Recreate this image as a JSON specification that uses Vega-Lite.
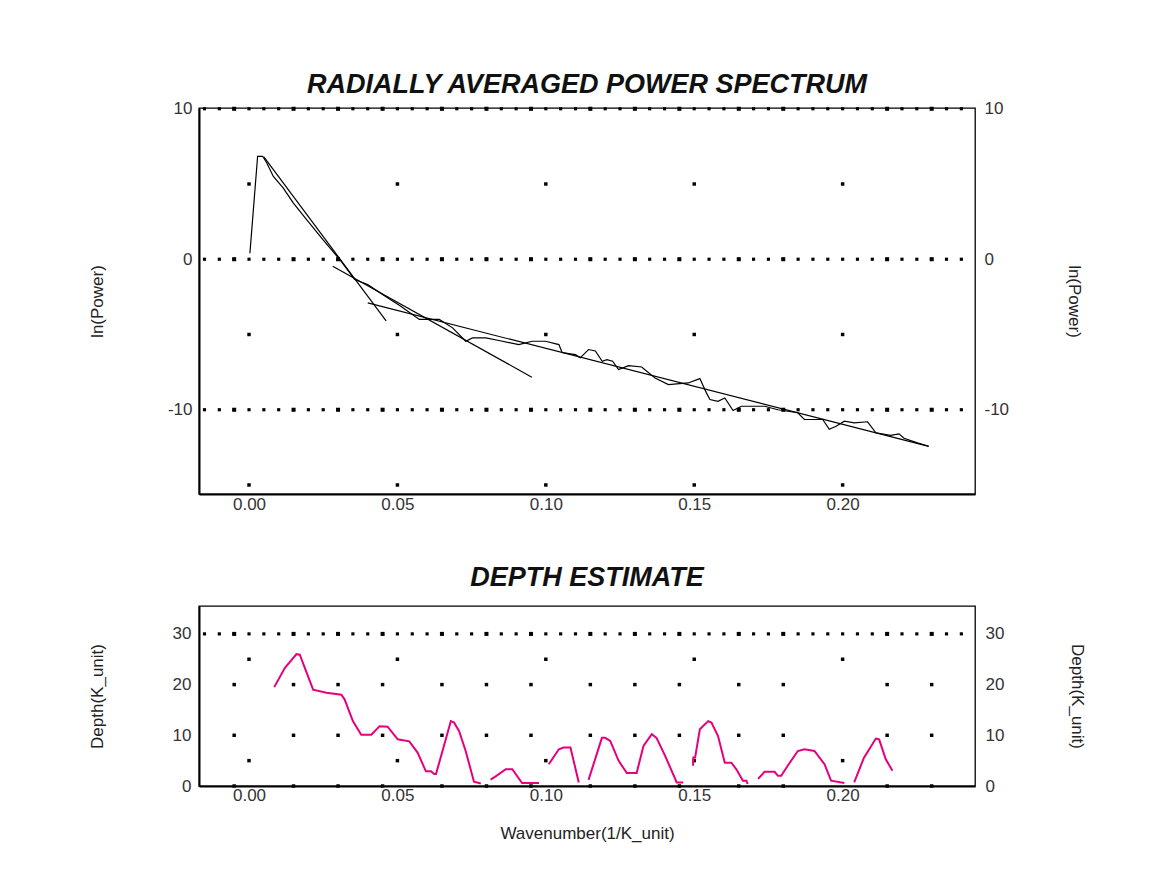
{
  "$schema": "https://vega.github.io/schema/vega-lite/v6.json",
  "background": "white",
  "padding": {"left": 87, "top": 70, "right": 5, "bottom": 5},
  "datasets": {
    "spectrum": [
      {"k": 0.0003, "lnp": 0.4}, {"k": 0.0029, "lnp": 6.84}, {"k": 0.0046, "lnp": 6.84}, {"k": 0.006, "lnp": 6.4},
      {"k": 0.0082, "lnp": 5.5}, {"k": 0.0115, "lnp": 4.74}, {"k": 0.0149, "lnp": 3.74}, {"k": 0.0194, "lnp": 2.64},
      {"k": 0.0249, "lnp": 1.3}, {"k": 0.0305, "lnp": 0.0}, {"k": 0.0356, "lnp": -1.35}, {"k": 0.04, "lnp": -1.68},
      {"k": 0.045, "lnp": -2.35}, {"k": 0.051, "lnp": -3.1}, {"k": 0.0574, "lnp": -4.0}, {"k": 0.0641, "lnp": -4.0},
      {"k": 0.0686, "lnp": -4.56}, {"k": 0.073, "lnp": -5.45}, {"k": 0.0753, "lnp": -5.23}, {"k": 0.0798, "lnp": -5.23},
      {"k": 0.0842, "lnp": -5.4}, {"k": 0.0909, "lnp": -5.67}, {"k": 0.0954, "lnp": -5.45}, {"k": 0.0999, "lnp": -5.45},
      {"k": 0.1044, "lnp": -5.67}, {"k": 0.1055, "lnp": -6.2}, {"k": 0.11, "lnp": -6.34}, {"k": 0.1116, "lnp": -6.55},
      {"k": 0.1144, "lnp": -6.0}, {"k": 0.1167, "lnp": -6.1}, {"k": 0.119, "lnp": -6.78}, {"k": 0.1206, "lnp": -6.67},
      {"k": 0.1225, "lnp": -6.78}, {"k": 0.1245, "lnp": -7.33}, {"k": 0.1279, "lnp": -7.07}, {"k": 0.1323, "lnp": -7.16},
      {"k": 0.1368, "lnp": -7.89}, {"k": 0.1413, "lnp": -8.33}, {"k": 0.148, "lnp": -8.22}, {"k": 0.1519, "lnp": -7.93},
      {"k": 0.1541, "lnp": -8.88}, {"k": 0.1553, "lnp": -9.32}, {"k": 0.158, "lnp": -9.44}, {"k": 0.1603, "lnp": -9.22},
      {"k": 0.1631, "lnp": -10.05}, {"k": 0.1659, "lnp": -9.77}, {"k": 0.1737, "lnp": -9.77}, {"k": 0.1782, "lnp": -10.0},
      {"k": 0.1849, "lnp": -10.2}, {"k": 0.1871, "lnp": -10.65}, {"k": 0.1933, "lnp": -10.65}, {"k": 0.1955, "lnp": -11.3},
      {"k": 0.1978, "lnp": -11.1}, {"k": 0.2006, "lnp": -10.76}, {"k": 0.2039, "lnp": -10.87}, {"k": 0.2084, "lnp": -10.8},
      {"k": 0.2112, "lnp": -11.53}, {"k": 0.2162, "lnp": -11.7}, {"k": 0.219, "lnp": -11.6}, {"k": 0.2207, "lnp": -11.9},
      {"k": 0.2252, "lnp": -12.2}, {"k": 0.229, "lnp": -12.43}
    ],
    "fits": [
      {"line": "A", "k": 0.005, "lnp": 6.8}, {"line": "A", "k": 0.0462, "lnp": -4.1},
      {"line": "B", "k": 0.0282, "lnp": -0.47}, {"line": "B", "k": 0.0953, "lnp": -7.84},
      {"line": "C", "k": 0.04, "lnp": -2.9}, {"line": "C", "k": 0.229, "lnp": -12.43}
    ],
    "depth": [
      {"seg": 1, "k": 0.0085, "d": 19.5}, {"seg": 1, "k": 0.0121, "d": 23.3}, {"seg": 1, "k": 0.016, "d": 26.0}, {"seg": 1, "k": 0.0171, "d": 25.9},
      {"seg": 1, "k": 0.0216, "d": 19.0}, {"seg": 1, "k": 0.0261, "d": 18.4}, {"seg": 1, "k": 0.0311, "d": 18.0}, {"seg": 1, "k": 0.0322, "d": 17.1},
      {"seg": 1, "k": 0.035, "d": 12.8}, {"seg": 1, "k": 0.0378, "d": 10.1}, {"seg": 1, "k": 0.0412, "d": 10.1}, {"seg": 1, "k": 0.044, "d": 11.8},
      {"seg": 1, "k": 0.0467, "d": 11.7}, {"seg": 1, "k": 0.0501, "d": 9.2}, {"seg": 1, "k": 0.054, "d": 8.8}, {"seg": 1, "k": 0.0568, "d": 6.6},
      {"seg": 1, "k": 0.0596, "d": 2.9}, {"seg": 1, "k": 0.0613, "d": 2.9}, {"seg": 1, "k": 0.0624, "d": 2.35}, {"seg": 1, "k": 0.063, "d": 2.35},
      {"seg": 1, "k": 0.0663, "d": 9.2}, {"seg": 1, "k": 0.068, "d": 12.8}, {"seg": 1, "k": 0.0691, "d": 12.5}, {"seg": 1, "k": 0.0708, "d": 10.8},
      {"seg": 1, "k": 0.073, "d": 6.9}, {"seg": 1, "k": 0.0758, "d": 0.85}, {"seg": 1, "k": 0.0781, "d": 0.5},
      {"seg": 2, "k": 0.0814, "d": 1.25}, {"seg": 2, "k": 0.0831, "d": 1.9}, {"seg": 2, "k": 0.0865, "d": 3.3}, {"seg": 2, "k": 0.0887, "d": 3.3},
      {"seg": 2, "k": 0.092, "d": 0.6}, {"seg": 2, "k": 0.0977, "d": 0.6},
      {"seg": 3, "k": 0.101, "d": 4.3}, {"seg": 3, "k": 0.1044, "d": 7.25}, {"seg": 3, "k": 0.106, "d": 7.6}, {"seg": 3, "k": 0.1083, "d": 7.6},
      {"seg": 3, "k": 0.1111, "d": 0.7},
      {"seg": 4, "k": 0.1144, "d": 1.2}, {"seg": 4, "k": 0.1189, "d": 9.5}, {"seg": 4, "k": 0.12, "d": 9.5}, {"seg": 4, "k": 0.1217, "d": 8.9},
      {"seg": 4, "k": 0.1245, "d": 5.0}, {"seg": 4, "k": 0.1273, "d": 2.55}, {"seg": 4, "k": 0.1306, "d": 2.55}, {"seg": 4, "k": 0.1329, "d": 7.9},
      {"seg": 4, "k": 0.1357, "d": 10.2}, {"seg": 4, "k": 0.1373, "d": 9.5}, {"seg": 4, "k": 0.1402, "d": 5.95}, {"seg": 4, "k": 0.1441, "d": 0.7},
      {"seg": 4, "k": 0.1463, "d": 0.7},
      {"seg": 5, "k": 0.1496, "d": 4.0}, {"seg": 5, "k": 0.1497, "d": 5.6}, {"seg": 5, "k": 0.1503, "d": 5.6}, {"seg": 5, "k": 0.1519, "d": 11.2},
      {"seg": 5, "k": 0.1547, "d": 12.8}, {"seg": 5, "k": 0.1558, "d": 12.5}, {"seg": 5, "k": 0.158, "d": 9.9}, {"seg": 5, "k": 0.1603, "d": 4.6},
      {"seg": 5, "k": 0.1625, "d": 4.6}, {"seg": 5, "k": 0.1642, "d": 3.3}, {"seg": 5, "k": 0.1664, "d": 1.05}, {"seg": 5, "k": 0.1676, "d": 1.05},
      {"seg": 5, "k": 0.168, "d": 0.4},
      {"seg": 6, "k": 0.1715, "d": 1.4}, {"seg": 6, "k": 0.1737, "d": 2.8}, {"seg": 6, "k": 0.1771, "d": 2.8}, {"seg": 6, "k": 0.1782, "d": 2.0},
      {"seg": 6, "k": 0.1793, "d": 2.0}, {"seg": 6, "k": 0.1815, "d": 4.0}, {"seg": 6, "k": 0.1849, "d": 6.9}, {"seg": 6, "k": 0.1871, "d": 7.25},
      {"seg": 6, "k": 0.1905, "d": 6.9}, {"seg": 6, "k": 0.1939, "d": 4.3}, {"seg": 6, "k": 0.1961, "d": 1.05}, {"seg": 6, "k": 0.2006, "d": 0.6},
      {"seg": 7, "k": 0.2039, "d": 0.7}, {"seg": 7, "k": 0.2072, "d": 5.6}, {"seg": 7, "k": 0.2112, "d": 9.35}, {"seg": 7, "k": 0.2123, "d": 9.2},
      {"seg": 7, "k": 0.2145, "d": 5.3}, {"seg": 7, "k": 0.2168, "d": 3.0}
    ],
    "dense": [
      {"k": -0.015}, {"k": -0.01}, {"k": -0.005}, {"k": 0.0}, {"k": 0.005}, {"k": 0.01}, {"k": 0.015}, {"k": 0.02}, {"k": 0.025}, {"k": 0.03},
      {"k": 0.035}, {"k": 0.04}, {"k": 0.045}, {"k": 0.05}, {"k": 0.055}, {"k": 0.06}, {"k": 0.065}, {"k": 0.07}, {"k": 0.075}, {"k": 0.08},
      {"k": 0.085}, {"k": 0.09}, {"k": 0.095}, {"k": 0.1}, {"k": 0.105}, {"k": 0.11}, {"k": 0.115}, {"k": 0.12}, {"k": 0.125}, {"k": 0.13},
      {"k": 0.135}, {"k": 0.14}, {"k": 0.145}, {"k": 0.15}, {"k": 0.155}, {"k": 0.16}, {"k": 0.165}, {"k": 0.17}, {"k": 0.175}, {"k": 0.18},
      {"k": 0.185}, {"k": 0.19}, {"k": 0.195}, {"k": 0.2}, {"k": 0.205}, {"k": 0.21}, {"k": 0.215}, {"k": 0.22}, {"k": 0.225}, {"k": 0.23},
      {"k": 0.235}, {"k": 0.24}
    ],
    "sparse": [{"k": 0.0}, {"k": 0.05}, {"k": 0.1}, {"k": 0.15}, {"k": 0.2}],
    "irregular": [
      {"k": -0.005}, {"k": 0.015}, {"k": 0.03}, {"k": 0.045}, {"k": 0.065}, {"k": 0.08}, {"k": 0.095},
      {"k": 0.115}, {"k": 0.13}, {"k": 0.145}, {"k": 0.165}, {"k": 0.18}, {"k": 0.215}, {"k": 0.23}
    ]
  },
  "vconcat": [
    {
      "title": {"text": "RADIALLY AVERAGED POWER SPECTRUM", "fontSize": 27, "offset": -20, "baseline": "alphabetic"},
      "width": 776,
      "height": 386,
      "encoding": {
        "x": {
          "field": "k", "type": "quantitative",
          "scale": {"domain": [-0.01685, 0.2446], "nice": false, "zero": false},
          "axis": {"values": [0, 0.05, 0.1, 0.15, 0.2], "format": ".2f", "title": null, "labelPadding": 2, "domain": true, "domainWidth": 2, "domainColor": "#000", "labelFlush": false, "labelOverlap": false}
        }
      },
      "layer": [
        {"data": {"name": "dense"}, "mark": {"type": "point", "shape": "square", "filled": true, "size": 10, "color": "#000", "opacity": 1, "strokeWidth": 0},
         "encoding": {"y": {"datum": 10, "type": "quantitative", "scale": {"domain": [-15.6, 10.05], "nice": false, "zero": false}, "axis": null}}},
        {"data": {"name": "dense"}, "mark": {"type": "point", "shape": "square", "filled": true, "size": 10, "color": "#000", "opacity": 1, "strokeWidth": 0},
         "encoding": {"y": {"datum": 0, "type": "quantitative", "axis": null}}},
        {"data": {"name": "dense"}, "mark": {"type": "point", "shape": "square", "filled": true, "size": 10, "color": "#000", "opacity": 1, "strokeWidth": 0},
         "encoding": {"y": {"datum": -10, "type": "quantitative", "axis": null}}},
        {"data": {"name": "irregular"}, "mark": {"type": "point", "shape": "square", "filled": true, "size": 16, "color": "#000", "opacity": 1, "strokeWidth": 0},
         "encoding": {"y": {"datum": 10, "type": "quantitative", "axis": null}}},
        {"data": {"name": "irregular"}, "mark": {"type": "point", "shape": "square", "filled": true, "size": 16, "color": "#000", "opacity": 1, "strokeWidth": 0},
         "encoding": {"y": {"datum": 0, "type": "quantitative", "axis": null}}},
        {"data": {"name": "irregular"}, "mark": {"type": "point", "shape": "square", "filled": true, "size": 16, "color": "#000", "opacity": 1, "strokeWidth": 0},
         "encoding": {"y": {"datum": -10, "type": "quantitative", "axis": null}}},
        {"data": {"name": "sparse"}, "mark": {"type": "point", "shape": "square", "filled": true, "size": 12, "color": "#000", "opacity": 1, "strokeWidth": 0},
         "encoding": {"y": {"datum": 5, "type": "quantitative", "axis": null}}},
        {"data": {"name": "sparse"}, "mark": {"type": "point", "shape": "square", "filled": true, "size": 12, "color": "#000", "opacity": 1, "strokeWidth": 0},
         "encoding": {"y": {"datum": -5, "type": "quantitative", "axis": null}}},
        {"data": {"name": "sparse"}, "mark": {"type": "point", "shape": "square", "filled": true, "size": 12, "color": "#000", "opacity": 1, "strokeWidth": 0},
         "encoding": {"y": {"datum": -15, "type": "quantitative", "axis": null}}},
        {"data": {"name": "spectrum"}, "mark": {"type": "line", "color": "#000", "strokeWidth": 1.2},
         "encoding": {"y": {"field": "lnp", "type": "quantitative",
           "axis": {"orient": "left", "values": [10, 0, -10], "labelExpr": "'' + datum.value", "title": "ln(Power)", "labelPadding": 7, "titlePadding": 61, "domain": true, "domainWidth": 2, "domainColor": "#000"}}}},
        {"data": {"name": "fits"}, "mark": {"type": "line", "color": "#000", "strokeWidth": 1.2},
         "encoding": {"detail": {"field": "line"}, "y": {"field": "lnp", "type": "quantitative",
           "axis": {"orient": "right", "values": [10, 0, -10], "labelExpr": "'' + datum.value", "title": "ln(Power)", "labelPadding": 9, "titlePadding": 56, "domain": false}}}}
      ],
      "resolve": {"axis": {"y": "independent"}}
    },
    {
      "title": {"text": "DEPTH ESTIMATE", "fontSize": 27, "offset": -7, "baseline": "alphabetic"},
      "width": 776,
      "height": 180,
      "encoding": {
        "x": {
          "field": "k", "type": "quantitative",
          "scale": {"domain": [-0.01685, 0.2446], "nice": false, "zero": false},
          "axis": {"values": [0, 0.05, 0.1, 0.15, 0.2], "format": ".2f", "title": "Wavenumber(1/K_unit)", "labelPadding": 1, "titlePadding": 22, "domain": true, "domainWidth": 2, "domainColor": "#000", "labelFlush": false, "labelOverlap": false}
        }
      },
      "layer": [
        {"data": {"name": "dense"}, "mark": {"type": "point", "shape": "square", "filled": true, "size": 10, "color": "#000", "opacity": 1, "strokeWidth": 0},
         "encoding": {"y": {"datum": 30, "type": "quantitative", "scale": {"domain": [0, 35.5], "nice": false, "zero": false}, "axis": null}}},
        {"data": {"name": "irregular"}, "mark": {"type": "point", "shape": "square", "filled": true, "size": 16, "color": "#000", "opacity": 1, "strokeWidth": 0},
         "encoding": {"y": {"datum": 30, "type": "quantitative", "axis": null}}},
        {"data": {"name": "sparse"}, "mark": {"type": "point", "shape": "square", "filled": true, "size": 12, "color": "#000", "opacity": 1, "strokeWidth": 0},
         "encoding": {"y": {"datum": 25, "type": "quantitative", "axis": null}}},
        {"data": {"name": "sparse"}, "mark": {"type": "point", "shape": "square", "filled": true, "size": 12, "color": "#000", "opacity": 1, "strokeWidth": 0},
         "encoding": {"y": {"datum": 5, "type": "quantitative", "axis": null}}},
        {"data": {"name": "irregular"}, "mark": {"type": "point", "shape": "square", "filled": true, "size": 12, "color": "#000", "opacity": 1, "strokeWidth": 0},
         "encoding": {"y": {"datum": 20, "type": "quantitative", "axis": null}}},
        {"data": {"name": "irregular"}, "mark": {"type": "point", "shape": "square", "filled": true, "size": 12, "color": "#000", "opacity": 1, "strokeWidth": 0},
         "encoding": {"y": {"datum": 10, "type": "quantitative", "axis": null}}},
        {"data": {"name": "irregular"}, "mark": {"type": "point", "shape": "square", "filled": true, "size": 12, "color": "#000", "opacity": 1, "strokeWidth": 0},
         "encoding": {"y": {"datum": 0, "type": "quantitative",
           "axis": {"orient": "right", "values": [30, 20, 10, 0], "title": "Depth(K_unit)", "labelPadding": 10, "titlePadding": 64, "domain": false}}}},
        {"data": {"name": "depth"}, "mark": {"type": "line", "color": "#e5007d", "strokeWidth": 2},
         "encoding": {"detail": {"field": "seg"}, "y": {"field": "d", "type": "quantitative",
           "axis": {"orient": "left", "values": [30, 20, 10, 0], "title": "Depth(K_unit)", "labelPadding": 8, "titlePadding": 66, "domain": true, "domainWidth": 2, "domainColor": "#000"}}}}
      ],
      "resolve": {"axis": {"y": "independent"}}
    }
  ],
  "spacing": 50,
  "config": {
    "view": {"stroke": "#000", "strokeWidth": 1.3},
    "axis": {
      "labelFont": "Liberation Sans", "labelFontSize": 17, "labelColor": "#333",
      "titleFont": "Liberation Sans", "titleFontSize": 17, "titleFontWeight": "normal", "titleColor": "#222",
      "ticks": false, "grid": false
    },
    "title": {"font": "Liberation Sans", "fontStyle": "italic", "fontWeight": "bold", "color": "#111", "anchor": "middle"}
  }
}
